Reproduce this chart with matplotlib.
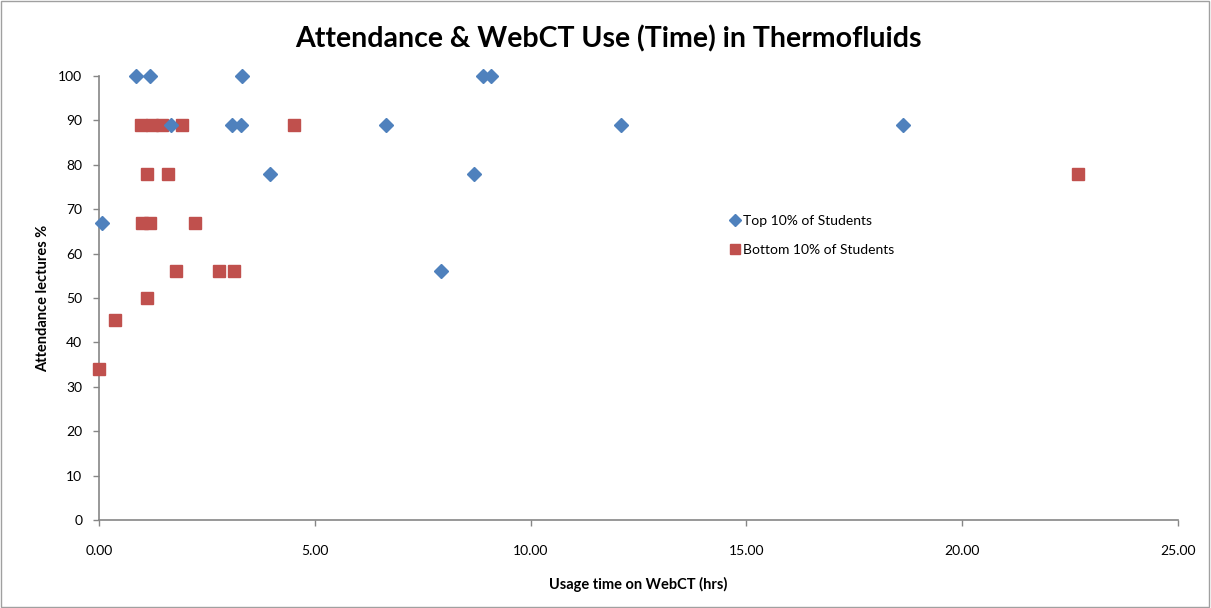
import matplotlib
matplotlib.use('Agg')
import matplotlib.pyplot as plt
from matplotlib.patches import Rectangle

plt.rcParams['font.family'] = ['Lato', 'DejaVu Sans']

# Top 10% of students
top_x = [0.86, 1.18, 3.31, 1.67, 3.07, 3.29, 3.97, 0.08, 6.65, 7.93,
         8.70, 8.90, 9.08, 12.10, 18.63]
top_y = [100, 100, 100, 89, 89, 89, 78, 67, 89, 56,
         78, 100, 100, 89, 89]

# Bottom 10% of students
bot_x = [0.97, 1.22, 1.45, 1.93, 4.51, 1.12, 1.60, 1.00, 1.19, 2.22,
         1.78, 2.77, 3.12, 1.12, 0.37, 0.00, 22.69]
bot_y = [89, 89, 89, 89, 89, 78, 78, 67, 67, 67,
         56, 56, 56, 50, 45, 34, 78]

BLUE = '#4F81BD'
RED = '#C0504D'
GREY = '#868686'

fig = plt.figure(figsize=(12.11, 6.08), dpi=100)
ax = fig.add_axes([99 / 1211, 88 / 608, 1079 / 1211, 444 / 608])

ax.plot(top_x, top_y, 'D', color=BLUE, markersize=7.5, label='Top 10% of Students',
        zorder=3, linestyle='none', clip_on=False)
ax.plot(bot_x, bot_y, 's', color=RED, markersize=9, label='Bottom 10% of Students',
        zorder=2, linestyle='none', clip_on=False)

ax.set_xlim(0, 25)
ax.set_ylim(0, 100)
ax.set_xticks([0, 5, 10, 15, 20, 25])
ax.set_xticklabels(['{:.2f}'.format(v) for v in [0, 5, 10, 15, 20, 25]])
ax.set_yticks(range(0, 101, 10))

for s in ['top', 'right']:
    ax.spines[s].set_visible(False)
for s in ['left', 'bottom']:
    ax.spines[s].set_color(GREY)
    ax.spines[s].set_linewidth(1.2)
    ax.spines[s].set_zorder(1)
ax.tick_params(axis='both', colors=GREY, length=4, width=1, labelsize=10,
               labelcolor='black', direction='out')
ax.tick_params(axis='x', pad=14)
ax.tick_params(axis='y', pad=8)

ax.set_xlabel('Usage time on WebCT (hrs)', fontsize=10.5, fontweight='bold', labelpad=14)
ax.set_ylabel('Attendance lectures %', fontsize=10.5, fontweight='bold', labelpad=6)

fig.text(0.502, 0.936, 'Attendance & WebCT Use (Time) in Thermofluids',
         ha='center', va='center', fontsize=20.5, fontweight='bold')

ax.legend(loc='upper left', bbox_to_anchor=(0.57, 0.716), frameon=False,
          fontsize=10, handletextpad=0.0, labelspacing=1.25, handlelength=1.2,
          markerscale=0.8)

fig.patches.append(Rectangle((0.001, 0.001), 0.997, 0.997, transform=fig.transFigure,
                             fill=False, edgecolor='#A0A0A0', linewidth=1))

fig.savefig('out.png', dpi=100)
